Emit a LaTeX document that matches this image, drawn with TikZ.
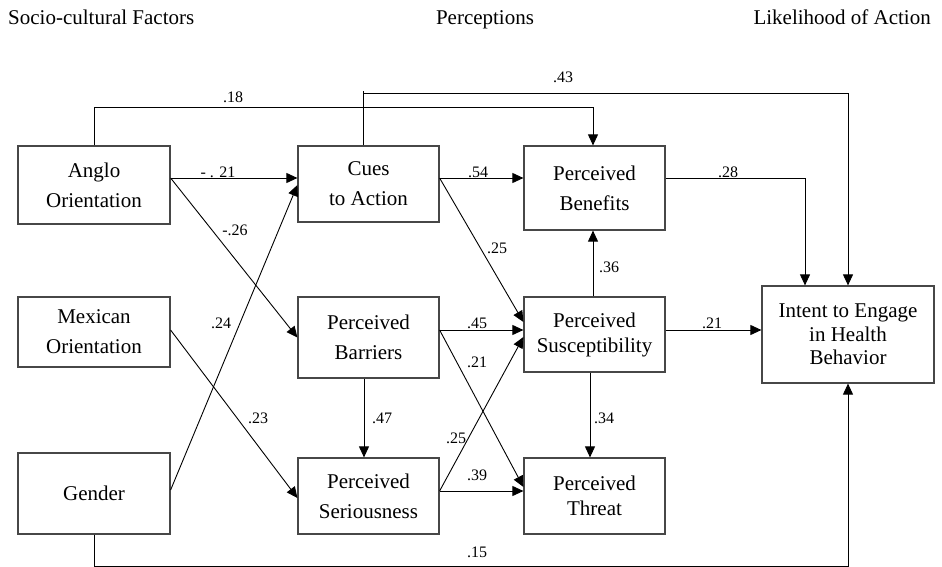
\documentclass[tikz,border=0pt]{standalone}
\usepackage{fontspec}
\setmainfont{Liberation Serif}
\usetikzlibrary{arrows.meta,calc}
\begin{document}
\begin{tikzpicture}[x=1pt,y=-1pt,
  box/.style={draw=black!72, line width=1.2pt, inner sep=0pt, align=center,
    font=\fontsize{21}{30}\selectfont},
  title/.style={inner sep=0pt, font=\fontsize{21}{25}\selectfont},
  lbl/.style={inner sep=0pt, font=\fontsize{16}{18}\selectfont},
  arr/.style={line width=0.9pt, -{Triangle[length=11pt,width=10pt]}},
  ln/.style={line width=0.9pt}]
\useasboundingbox (0,0) rectangle (942,567);

% titles
\node[title, anchor=base west] (t1) at (8,25) {Socio-cultural Factors};
\node[title, anchor=base] (t2) at (485,25) {Perceptions};
\node[title, anchor=base east] (t3) at (931,25) {Likelihood of Action};

% boxes
\node[box, minimum width=152pt, minimum height=78pt] (anglo) at (94,185) {Anglo\\Orientation};
\node[box, minimum width=152pt, minimum height=70pt] (mexican) at (94,332) {Mexican\\Orientation};
\node[box, minimum width=152pt, minimum height=81pt] (gender) at (94,493.5) {Gender};
\node[box, minimum width=141pt, minimum height=76pt] (cues) at (368.5,184) {Cues\\to Action};
\node[box, minimum width=141pt, minimum height=81pt] (barriers) at (368.5,337.5) {Perceived\\Barriers};
\node[box, minimum width=141pt, minimum height=76pt] (serious) at (368.5,496) {Perceived\\Seriousness};
\node[box, minimum width=141pt, minimum height=84pt] (benefits) at (594.5,188) {Perceived\\Benefits};
\node[box, minimum width=141pt, minimum height=75pt, font=\fontsize{21}{25}\selectfont] (suscept) at (594.5,334.5) {Perceived\\Susceptibility};
\node[box, minimum width=141pt, minimum height=76pt, font=\fontsize{21}{25}\selectfont] (threat) at (594.5,496) {Perceived\\Threat};
\node[box, minimum width=172pt, minimum height=97pt, font=\fontsize{21}{23.5}\selectfont] (intent) at (848,334.5) {Intent to Engage\\in Health\\Behavior};

% connectors
\draw[arr] ([yshift=7pt]anglo.east) -- ([yshift=6pt]cues.west);
\draw[arr] ([yshift=7pt]anglo.east) -- (barriers.west);
\draw[arr] ([yshift=3.5pt]gender.east) -- ([yshift=-1pt]cues.west);
\draw[arr] ([yshift=2pt]mexican.east) -- ([yshift=-2pt]serious.west);
\draw[arr] ([yshift=6pt]cues.east) -- ([yshift=10pt]benefits.west);
\draw[arr] ([yshift=6pt]cues.east) -- ([yshift=12.5pt]suscept.west);
\draw[arr] ([yshift=7.5pt]barriers.east) -- ([yshift=4.5pt]suscept.west);
\draw[arr] ([yshift=7.5pt]barriers.east) -- ([yshift=9pt]threat.west);
\draw[arr] ([yshift=5pt]serious.east) -- ([yshift=-2.5pt]suscept.west);
\draw[arr] ([yshift=5pt]serious.east) -- ([yshift=5pt]threat.west);
\draw[arr] ([xshift=-4.5pt]barriers.south) -- ([xshift=-4.5pt]serious.north);
\draw[arr] ([xshift=-1.5pt]suscept.north) -- ([xshift=-1.5pt]benefits.south);
\draw[arr] ([xshift=-4.5pt]suscept.south) -- ([xshift=-4.5pt]threat.north);
\draw[arr] ([yshift=4.5pt]suscept.east) -- ([yshift=4.5pt]intent.west);
\draw[arr] ([yshift=10pt]benefits.east) -| ([xshift=-43pt]intent.north);
\draw[arr] (anglo.north) -- ++(0,-38) -| ([xshift=-1.5pt]benefits.north);
\draw[ln] ([xshift=-5.5pt]cues.north) -- ++(0,-54);
\draw[arr] ([xshift=-5.5pt]cues.north) ++(0,-52) -| (intent.north);
\draw[arr] (gender.south) -- ++(0,32) -| (intent.south);

% path labels
\node[lbl] (l18) at (233,97) {.18};
\node[lbl] (l43) at (563,77) {.43};
\node[lbl] (l21a) at (218,172) {- . 21};
\node[lbl] (l26) at (235,230) {-.26};
\node[lbl] (l54) at (478,172) {.54};
\node[lbl] (l28) at (728,172) {.28};
\node[lbl] (l25a) at (497,248) {.25};
\node[lbl] (l36) at (609,267) {.36};
\node[lbl] (l24) at (221,323) {.24};
\node[lbl] (l23) at (258,418) {.23};
\node[lbl] (l47) at (382,418) {.47};
\node[lbl] (l45) at (477,323) {.45};
\node[lbl] (l21b) at (477,362) {.21};
\node[lbl] (l25b) at (456,438) {.25};
\node[lbl] (l39) at (477,475) {.39};
\node[lbl] (l34) at (604,418) {.34};
\node[lbl] (l21c) at (712,323) {.21};
\node[lbl] (l15) at (477,552) {.15};
\end{tikzpicture}
\end{document}
